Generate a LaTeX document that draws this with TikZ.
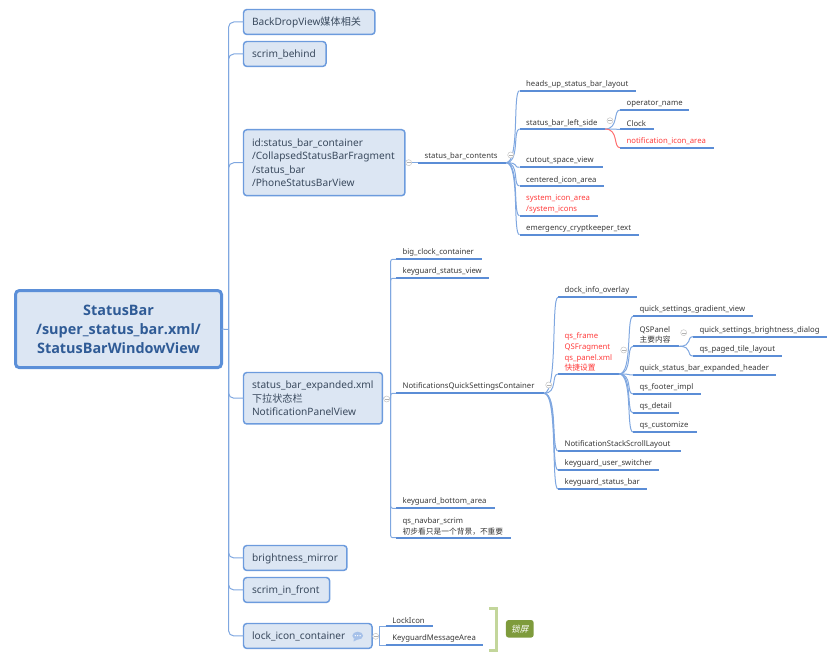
\documentclass[tikz,border=0pt]{standalone}
\usepackage{fontspec}
\setmainfont{Noto Sans}
\newfontfamily\cjk{Noto Sans CJK SC}
\newfontfamily\cjkslant[FakeSlant=0.2]{Noto Sans CJK SC}
\newfontfamily\rootfont{Open Sans}
\definecolor{boxfill}{HTML}{DCE6F3}
\definecolor{boxline}{HTML}{6C9BDD}
\definecolor{rootline}{HTML}{5B8FD8}
\definecolor{rootText}{HTML}{2F5B96}
\definecolor{boxText}{HTML}{3A4A5E}
\definecolor{leafLine}{HTML}{5B8DD6}
\definecolor{connLine}{HTML}{7FA7E0}
\definecolor{redText}{HTML}{FF3B3B}
\definecolor{redLine}{HTML}{FF7070}
\definecolor{tagGreen}{HTML}{7E9B3C}
\definecolor{brkGreen}{HTML}{C3D69B}
\tikzset{
  rootbox/.style={draw=rootline,line width=2.25pt,fill=boxfill,rounded corners=3pt,inner sep=0pt,outer sep=0pt,
    text=rootText,font=\fontsize{10.8}{14.25}\rootfont\bfseries,align=center,anchor=north west},
  mainbox/.style={draw=boxline,line width=1.1pt,fill=boxfill,rounded corners=2.5pt,inner ysep=0pt,inner xsep=6.4pt,outer sep=0pt,
    text=boxText,font=\fontsize{7.6}{10.2}\selectfont,align=left,anchor=north west},
  oneline/.style={minimum height=18.7pt,text height=6.5pt,text depth=0.8pt},
  leafnode/.style={inner xsep=5pt,inner ysep=2.1pt,outer sep=0pt,anchor=south west,
    font=\fontsize{5.8}{7.9}\selectfont,text=black!78,align=left},
  redleaf/.style={text=redText},
  ulS/.style={draw=leafLine,line width=1.35pt},
  conn/.style={draw=connLine,line width=0.75pt},
  expander/.style={circle,draw=black!22,fill=white,line width=0.4pt,minimum size=4.5pt,inner sep=0pt},
}
\newcommand{\leaf}[6][]{%
  \node[leafnode,#1,minimum width={0.75pt*(#4-#3)},text width={0.75pt*(#4-#3)-10pt}] (#2) at (#3,#5) {#6};
  \draw[ulS] (#2.south west) -- (#2.south east);}
\newcommand{\fan}[3][conn]{\draw[#1] (#2.south east) .. controls +(14,0) and +(-7,0) .. (#3.south west);}
\newcommand{\expnd}[3]{\node[expander] (#1) at (#2,#3) {};
  \draw[draw=black!30,line width=0.3pt] ([xshift=1pt]#1.west) -- ([xshift=-1pt]#1.east);}
\begin{document}
\begin{tikzpicture}[x=0.75pt,y=-0.75pt]
\useasboundingbox (0,0) rectangle (840,660);
% main trunk
\coordinate (trunk) at (228.5,329.5);
\coordinate (t2) at (390.7,398);
\coordinate (t3) at (379.5,636);
% boxes
\node[rootbox,minimum width=154.5pt,minimum height=57.9pt] (root) at (15.5,290.5) {StatusBar\\/super\_status\_bar.xml/\\StatusBarWindowView};
\node[mainbox,oneline,text width=85.8pt] (backdrop) at (243.5,9.5) {BackDropView{\cjk 媒体相关}};
\node[mainbox,oneline,text width=49.1pt] (scrimb) at (243.5,41.5) {scrim\_behind};
\node[mainbox,minimum height=49.5pt,text width=108.3pt] (idbox) at (243.5,129.7) {id:status\_bar\_container\\/CollapsedStatusBarFragment\\/status\_bar\\/PhoneStatusBarView};
\node[mainbox,minimum height=38.6pt,text width=91.4pt] (expanded) at (243.5,372.5) {status\_bar\_expanded.xml\\{\cjk 下拉状态栏}\\NotificationPanelView};
\node[mainbox,oneline,text width=64.8pt] (bright) at (243.5,545.5) {brightness\_mirror};
\node[mainbox,oneline,text width=51.8pt] (scrimf) at (243.5,577.5) {scrim\_in\_front};
\node[mainbox,oneline,text width=83.6pt] (lockc) at (243.5,623.5) {lock\_icon\_container};
% trunk connectors
\draw[conn] (root.east) -- (trunk);
\foreach \c in {backdrop,scrimb,idbox,expanded,bright,scrimf,lockc}
  \draw[conn,rounded corners=4pt] (trunk) |- (\c.west);
% status_bar_contents group
\leaf{contents}{418}{506}{162.7}{status\_bar\_contents}
\draw[conn] (idbox.east) -- (contents.south west);
\leaf{headsup}{519.5}{636}{90.7}{heads\_up\_status\_bar\_layout}
\leaf{leftside}{519.5}{605}{129}{status\_bar\_left\_side}
\leaf{cutout}{519.5}{603}{167.3}{cutout\_space\_view}
\leaf{centered}{519.5}{604}{186}{centered\_icon\_area}
\leaf[redleaf]{sysicon}{519.5}{598}{215.7}{system\_icon\_area\\/system\_icons}
\leaf{emergency}{519.5}{639}{234.7}{emergency\_cryptkeeper\_text}
\foreach \c in {headsup,leftside,cutout,centered,sysicon,emergency} {\fan{contents}{\c}}
\leaf{operator}{620}{689}{110}{operator\_name}
\leaf{clock}{620}{654}{129.3}{Clock}
\leaf[redleaf]{notifarea}{620}{713.7}{147.7}{notification\_icon\_area}
\fan{leftside}{operator}
\fan{leftside}{clock}
\fan[draw=redLine,line width=0.75pt]{leftside}{notifarea}
% expanded group
\leaf{bigclock}{396}{481.7}{259.3}{big\_clock\_container}
\leaf{kgstatus}{396}{489}{278.3}{keyguard\_status\_view}
\leaf{nqsc}{396}{544}{393.3}{NotificationsQuickSettingsContainer}
\leaf{kgbottom}{396}{494.7}{508.3}{keyguard\_bottom\_area}
\leaf{navbar}{396}{510.7}{537.7}{qs\_navbar\_scrim\\{\cjk 初步看只是一个背景，不重要}}
\draw[conn] (expanded.east) -- (t2);
\foreach \c in {bigclock,kgstatus,nqsc,kgbottom,navbar}
  \draw[conn,rounded corners=1.5pt] (t2) |- (\c.south west);
% NotificationsQuickSettingsContainer children
\leaf{dock}{558}{637}{297.3}{dock\_info\_overlay}
\leaf[redleaf]{qsframe}{558}{619}{374}{qs\_frame\\QSFragment\\qs\_panel.xml\\{\cjk 快捷设置}}
\leaf{stack}{558}{681}{451}{NotificationStackScrollLayout}
\leaf{kguser}{558}{659}{470}{keyguard\_user\_switcher}
\leaf{kgbar}{558}{647}{489}{keyguard\_status\_bar}
\foreach \c in {dock,qsframe,stack,kguser,kgbar} {\fan{nqsc}{\c}}
% qs_frame children
\leaf{gradient}{633}{753}{316.3}{quick\_settings\_gradient\_view}
\leaf{qspanel}{633}{679}{346.3}{QSPanel\\{\cjk 主要内容}}
\leaf{qsheader}{633}{776}{375}{quick\_status\_bar\_expanded\_header}
\leaf{qsfooter}{633}{701}{394}{qs\_footer\_impl}
\leaf{qsdetail}{633}{679}{413}{qs\_detail}
\leaf{qscustom}{633}{697}{432}{qs\_customize}
\foreach \c in {gradient,qspanel,qsheader,qsfooter,qsdetail,qscustom} {\fan{qsframe}{\c}}
% QSPanel children
\leaf{brightdlg}{693}{826.7}{336.7}{quick\_settings\_brightness\_dialog}
\leaf{paged}{693}{781.7}{356}{qs\_paged\_tile\_layout}
\fan{qspanel}{brightdlg}
\fan{qspanel}{paged}
% lock group
\leaf{lockicon}{385.7}{433}{626.3}{LockIcon}
\leaf{keymsg}{385.7}{483}{645.3}{KeyguardMessageArea}
\draw[conn] (lockc.east) -- (t3);
\draw[conn] (t3) |- (lockicon.south west);
\draw[conn] (t3) |- (keymsg.south west);
% expanders
\expnd{ex1}{408.7}{162.7}
\expnd{ex2}{510.7}{155}
\expnd{ex3}{610}{120.7}
\expnd{ex4}{386.7}{399}
\expnd{ex5}{548.7}{385}
\expnd{ex6}{623.7}{350}
\expnd{ex7}{683.7}{332.7}
\expnd{ex8}{375.7}{636.3}
% note icon
\fill[fill=cyan!55!blue!35] (357.7,635.7) ellipse [x radius=5.4,y radius=4] (354,638) -- (353.5,641.5) -- (357.5,639.5) -- cycle;
\foreach \dx in {-2.4,0,2.4} \fill[white] (357.7+\dx,635.7) circle (0.7);
% bracket and tag
\draw[draw=brkGreen,line width=2.25pt] (489,608.5) -- (496.7,608.5) -- (496.7,650) -- (489,650);
\node[fill=tagGreen,rounded corners=2pt,text=white,minimum width=20.8pt,minimum height=13.2pt,inner sep=0pt,font=\fontsize{6.5}{8}\cjkslant] (tag) at (519.8,628.8) {锁屏};
\end{tikzpicture}
\end{document}
